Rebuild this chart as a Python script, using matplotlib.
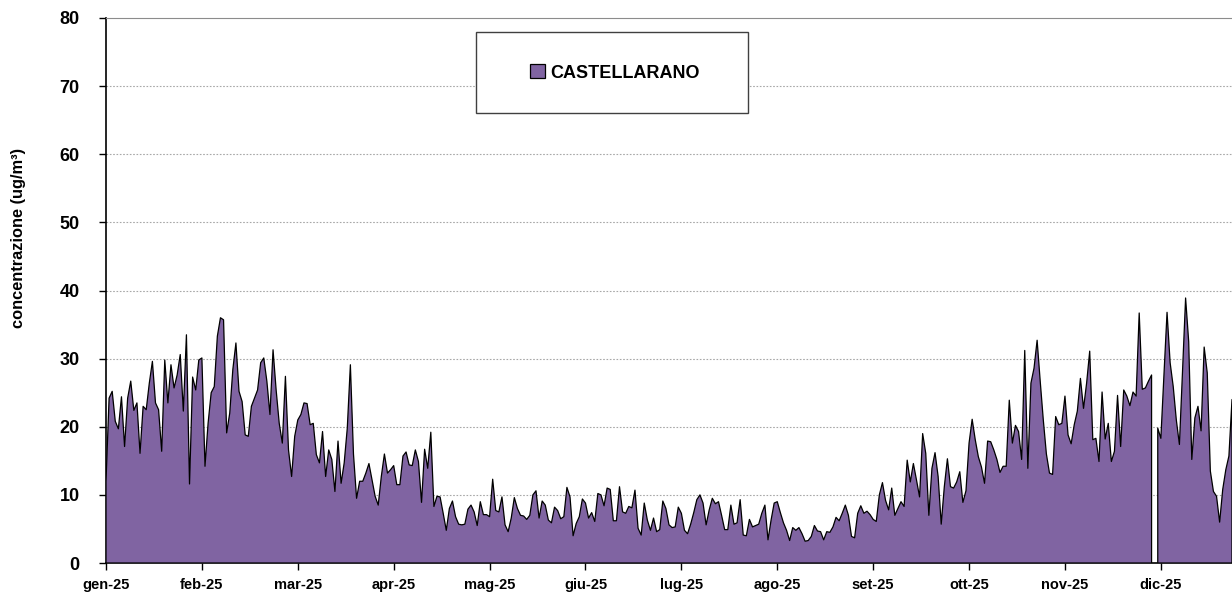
# Daily concentration at Castellarano, 2025 (area chart)

import matplotlib
matplotlib.use("Agg")
import matplotlib.pyplot as plt
import numpy as np

month_labels = ["gen-25", "feb-25", "mar-25", "apr-25", "mag-25", "giu-25",
                "lug-25", "ago-25", "set-25", "ott-25", "nov-25", "dic-25"]

# one value per day, 1 Jan .. 31 Dec (None = missing day)
jan_mar = [12.0, 24.2, 25.2, 20.8, 19.7, 24.4, 17.1, 24.2, 26.7, 22.4,
           23.5, 16.1, 23.0, 22.5, 26.4, 29.6, 23.5, 22.5, 16.4, 29.8,
           23.5, 29.1, 25.7, 27.6, 30.6, 22.3, 33.5, 11.6, 27.3, 25.4,
           29.8, 30.1, 14.2, 20.5, 25.0, 25.9, 33.3, 36.0, 35.7, 19.1,
           22.0, 28.4, 32.3, 25.2, 23.7, 18.8, 18.6, 23.0, 24.2, 25.4,
           29.4, 30.1, 26.7, 21.8, 31.3, 25.4, 20.5, 17.6, 27.4, 16.6,
           12.7, 18.6, 21.0, 21.8, 23.5, 23.4, 20.3, 20.5, 15.9, 14.7,
           19.3, 12.7, 16.6, 15.2, 10.5, 17.9, 11.7, 14.7, 19.8, 29.1,
           16.0, 9.5, 12.0, 12.0, 13.2, 14.6, 12.2, 9.8, 8.5, 12.7]
apr_jun = [16.0, 13.2, 13.7, 14.3, 11.5, 11.5, 15.7, 16.3, 14.4, 14.3,
           16.6, 14.9, 8.9, 16.7, 13.9, 19.2, 8.3, 9.8, 9.7, 7.3,
           4.8, 8.0, 9.1, 6.8, 5.7, 5.6, 5.7, 7.9, 8.5, 7.5,
           5.5, 9.0, 7.1, 7.1, 6.8, 12.3, 7.7, 7.5, 9.7, 5.6,
           4.6, 6.6, 9.6, 8.0, 7.0, 6.9, 6.4, 7.0, 10.0, 10.6,
           6.6, 9.1, 8.5, 6.3, 5.9, 8.2, 7.7, 6.5, 6.8, 11.1,
           9.7, 4.0, 5.8, 6.8, 9.4, 8.8, 6.6, 7.4, 6.1, 10.2,
           10.0, 8.4, 11.0, 10.8, 6.2, 6.2, 11.2, 7.5, 7.3, 8.3,
           8.1, 10.7, 5.1, 4.1, 8.8, 6.3, 4.8, 6.6, 4.6, 4.9, 9.1]
jul_sep = [8.0, 5.6, 5.2, 5.3, 8.2, 7.3, 4.8, 4.3, 5.7, 7.4,
           9.3, 10.0, 8.8, 5.6, 7.8, 9.5, 8.7, 9.0, 7.0, 4.9,
           4.9, 8.5, 5.7, 5.9, 9.3, 4.1, 4.0, 6.4, 5.3, 5.5,
           5.7, 7.3, 8.5, 3.4, 6.3, 8.8, 9.0, 7.4, 5.9, 4.8,
           3.3, 5.2, 4.8, 5.2, 4.3, 3.2, 3.3, 3.9, 5.5, 4.7,
           4.6, 3.4, 4.6, 4.5, 5.3, 6.7, 6.2, 7.3, 8.5, 7.0,
           3.9, 3.7, 7.3, 8.4, 7.3, 7.6, 7.1, 6.4, 6.1, 10.0,
           11.8, 9.2, 7.8, 11.0, 7.0, 8.0, 9.0, 8.3, 15.1, 11.9,
           14.6, 12.2, 9.7, 19.0, 16.1, 7.0, 13.9, 16.2, 12.7, 5.7,
           11.2, 15.3]
oct_dec = [11.2, 11.0, 11.9, 13.4, 8.9, 10.6, 17.6, 21.1, 18.1, 15.6,
           14.1, 11.7, 17.9, 17.8, 16.6, 15.2, 13.3, 14.2, 14.2, 23.9,
           17.6, 20.2, 19.3, 15.2, 31.2, 13.9, 26.4, 28.6, 32.7, 26.7,
           21.0, 16.0, 13.2, 13.0, 21.5, 20.3, 20.5, 24.5, 18.8, 17.5,
           20.3, 22.3, 27.1, 22.7, 26.4, 31.1, 18.1, 18.3, 14.9, 25.1,
           18.2, 20.5, 14.9, 16.4, 24.6, 17.1, 25.4, 24.5, 23.1, 25.1,
           24.5, 36.7, 25.5, 25.7, 26.7, 27.6, None, 19.8, 18.3, 27.6,
           36.8, 29.4, 25.9, 21.0, 17.4, 28.1, 38.9, 32.5, 15.2, 21.3,
           23.0, 19.4, 31.7, 27.9, 13.5, 10.5, 9.8, 6.0, 10.8, 13.7,
           15.7, 24.0]

conc = np.array(jan_mar + apr_jun + jul_sep + oct_dec, dtype=float)
days = np.arange(len(conc))

fig = plt.figure(figsize=(12.32, 6.01), dpi=100)
ax = fig.add_axes([106 / 1232, 38 / 601, 1126 / 1232, 545 / 601])

font = "Liberation Sans"

ax.fill_between(days, conc, 0, facecolor="#8064A2", edgecolor="black",
                linewidth=0.9, label="CASTELLARANO", zorder=3)

ax.set_xlim(0, len(conc) - 1)
ax.set_ylim(0, 80)

ax.set_yticks(range(0, 81, 10))
ax.set_yticklabels([str(v) for v in range(0, 81, 10)],
                   fontsize=13, fontweight="bold", family=font)
ax.set_xticks(range(0, 12 * 31, 31))
ax.set_xticklabels(month_labels, fontsize=10.5, fontweight="bold", family=font)
ax.tick_params(axis="y", direction="out", length=5, width=1, pad=14)
ax.tick_params(axis="x", direction="out", length=5, width=1, pad=6)

for v in range(10, 80, 10):
    ax.axhline(v, color="#a8a8a8", linewidth=0.8, linestyle=(0, (1.5, 1.5)), zorder=1)

ax.spines["right"].set_visible(False)
ax.spines["top"].set_color("#8c8c8c")
ax.spines["left"].set_linewidth(1.2)
ax.spines["bottom"].set_linewidth(1.2)

fig.text(19 / 1232, 1 - 238 / 601, "concentrazione (ug/m\u00b3)", rotation=90,
         ha="center", va="center", fontsize=11.8, fontweight="bold", family=font)

# legend box
box = plt.Rectangle((476 / 1232, 1 - 113 / 601), 272 / 1232, 81 / 601,
                    transform=fig.transFigure, facecolor="white",
                    edgecolor="#404040", linewidth=1.0, zorder=5)
fig.patches.append(box)
leg = fig.legend(loc="center", bbox_to_anchor=(615 / 1232, 1 - 73 / 601),
                 frameon=False, handlelength=0.8, handleheight=0.8,
                 handletextpad=0.3, prop={"family": font, "weight": "bold", "size": 13})
leg.set_zorder(6)

fig.savefig("out.png", dpi=100)
